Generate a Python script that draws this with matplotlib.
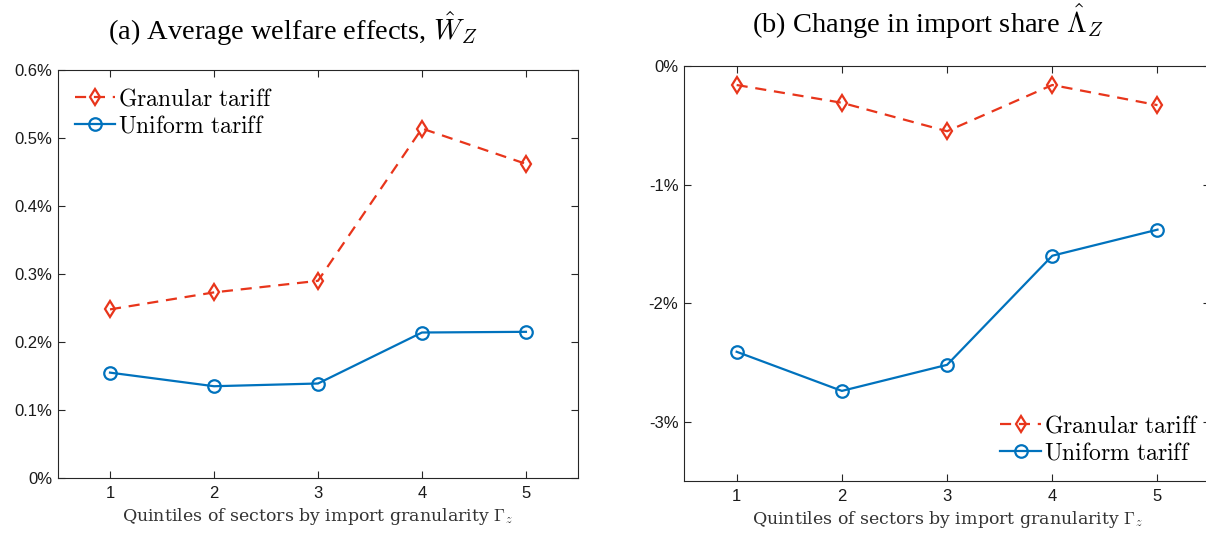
import matplotlib
matplotlib.use('Agg')
import matplotlib.pyplot as plt
import matplotlib.ticker as ticker

plt.rcParams['mathtext.fontset'] = 'cm'

quintiles = [1, 2, 3, 4, 5]

# (a) average welfare effects, in percent
welfare_granular = [0.248, 0.273, 0.290, 0.514, 0.462]
welfare_uniform = [0.155, 0.135, 0.139, 0.214, 0.215]

# (b) change in import share, in percent
share_granular = [-0.16, -0.31, -0.55, -0.16, -0.33]
share_uniform = [-2.41, -2.74, -2.52, -1.60, -1.38]

red = '#e8351b'
blue = '#0072bd'
axcol = '#262626'

fig = plt.figure(figsize=(12.06, 5.35), dpi=100)
ax1 = fig.add_axes([0.0481, 0.1065, 0.4311, 0.7626])
ax2 = fig.add_axes([0.5672, 0.1009, 0.4362, 0.7757])


def style(ax):
    for s in ax.spines.values():
        s.set_color(axcol)
        s.set_linewidth(0.8)
    ax.tick_params(direction='in', length=5, width=0.8, color=axcol,
                   top=True, right=True, labelsize=12, labelcolor='#1a1a1a')
    ax.tick_params(axis='x', pad=6)
    ax.tick_params(axis='y', pad=4)
    for lab in ax.get_xticklabels() + ax.get_yticklabels():
        lab.set_family('Liberation Sans')
    ax.set_xlim(0.5, 5.5)
    ax.set_xticks(quintiles)
    ax.set_xlabel(r'Quintiles of sectors by import granularity $\Gamma_z$',
                  family='DejaVu Serif', fontsize=12.5, color='#333333', labelpad=3)


ax1.plot(quintiles, welfare_granular, '--d', color=red, lw=1.6, ms=8.5,
         mfc='none', mew=1.6, dashes=(5, 3.5), label=r'$\mathrm{Granular\ tariff}$')
ax1.plot(quintiles, welfare_uniform, '-o', color=blue, lw=1.6, ms=9,
         mfc='none', mew=1.6, label=r'$\mathrm{Uniform\ tariff}$')
ax1.set_ylim(0, 0.6)
ax1.set_yticks([0, 0.1, 0.2, 0.3, 0.4, 0.5, 0.6])
ax1.yaxis.set_major_formatter(ticker.FuncFormatter(lambda v, p: '{:g}%'.format(round(v, 2))))
style(ax1)
ax1.legend(loc='upper left', frameon=False, fontsize=17, handlelength=1.7,
           handletextpad=0.15, labelspacing=0.12, borderaxespad=0.3)

ax2.plot(quintiles, share_granular, '--d', color=red, lw=1.6, ms=8.5,
         mfc='none', mew=1.6, dashes=(5, 3.5), label=r'$\mathrm{Granular\ tariff}$')
ax2.plot(quintiles, share_uniform, '-o', color=blue, lw=1.6, ms=9,
         mfc='none', mew=1.6, label=r'$\mathrm{Uniform\ tariff}$')
ax2.set_ylim(-3.5, 0)
ax2.set_yticks([-3, -2, -1, 0])
ax2.yaxis.set_major_formatter(ticker.FuncFormatter(lambda v, p: '{:g}%'.format(v)))
style(ax2)
ax2.legend(loc='lower right', bbox_to_anchor=(1.01, 0.0), frameon=False, fontsize=17,
           handlelength=1.7, handletextpad=0.15, labelspacing=0.12, borderaxespad=0.3)

fig.text(0.2425, 0.946, r'(a) Average welfare effects, $\hat{W}_Z$',
         ha='center', va='center', family='Liberation Serif', fontsize=20.5)
fig.text(0.7695, 0.96, r'(b) Change in import share $\hat{\Lambda}_Z$',
         ha='center', va='center', family='Liberation Serif', fontsize=20.5)

fig.savefig('out.png', dpi=100)
plt.close()
